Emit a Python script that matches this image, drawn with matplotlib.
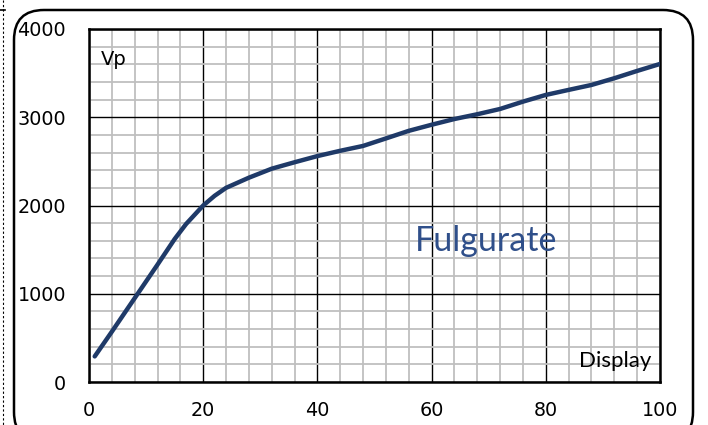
import matplotlib.pyplot as plt
import matplotlib.patches as patches
from matplotlib.ticker import MultipleLocator

# Curve (Display setting vs peak voltage)
display = [1, 4, 8, 12, 15, 17, 20, 22, 24, 28, 32, 36, 40, 44, 48, 52, 56, 60,
           64, 68, 72, 76, 80, 84, 88, 92, 96, 100]
vp = [290, 570, 950, 1330, 1620, 1790, 2000, 2110, 2200, 2315, 2417, 2490, 2560,
      2620, 2675, 2760, 2846, 2915, 2980, 3034, 3094, 3177, 3253, 3310, 3366,
      3442, 3525, 3604]

x_ticks = [0, 20, 40, 60, 80, 100]
y_ticks = [0, 1000, 2000, 3000, 4000]

fig = plt.figure(figsize=(7.08, 4.25), dpi=100)

# Frame layer in pixel coordinates
bg = fig.add_axes([0, 0, 1, 1])
bg.set_xlim(0, 708)
bg.set_ylim(425, 0)
bg.axis('off')
frame = patches.FancyBboxPatch((14, 10), 679, 432,
                               boxstyle='round,pad=0,rounding_size=30',
                               facecolor='white', edgecolor='black', linewidth=1.8)
bg.add_patch(frame)
bg.plot([3, 3], [0, 425], color='black', linewidth=0.8, linestyle=(0, (2, 2)))
bg.plot([0, 5], [10, 10], color='black', linewidth=1.2)

ax = fig.add_axes([89 / 708, 43 / 425, 571 / 708, 353 / 425])
ax.set_facecolor('white')
ax.set_xlim(0, 100)
ax.set_ylim(0, 4000)

ax.xaxis.set_minor_locator(MultipleLocator(4))
ax.yaxis.set_minor_locator(MultipleLocator(200))
ax.set_xticks(x_ticks)
ax.set_yticks(y_ticks)
ax.grid(which='minor', color='#bfbfbf', linewidth=1.3)
ax.grid(which='major', color='black', linewidth=1.0)
ax.set_axisbelow(True)
ax.tick_params(which='both', length=0)
ax.tick_params(axis='y', pad=16.5, labelsize=13.8)
ax.tick_params(axis='x', pad=14, labelsize=13.8)
for s in ax.spines.values():
    s.set_linewidth(1.8)

ax.plot(display, vp, color='#1f3a68', linewidth=3.2, solid_capstyle='round',
        solid_joinstyle='round', zorder=3)

ax.text(2, 3650, 'Vp', fontsize=14, ha='left', va='center')
ax.text(98.5, 240, 'Display', fontsize=16, ha='right', va='center', family='Lato')
ax.text(69.5, 1600, 'Fulgurate', fontsize=24.5, ha='center', va='center',
        color='#2f4f8a', family='Lato')

fig.savefig('out.png', dpi=100)
